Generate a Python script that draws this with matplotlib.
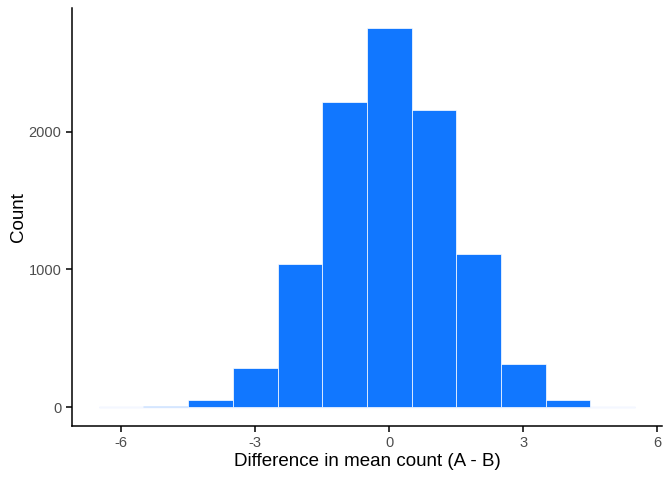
import numpy as np
import matplotlib.pyplot as plt

plt.rcParams["font.family"] = ["Liberation Sans", "DejaVu Sans"]

# bin centres (width 1) and counts
bin_centres = [-6, -5, -4, -3, -2, -1, 0, 1, 2, 3, 4, 5]
counts = [1, 6, 52, 285, 1042, 2219, 2752, 2155, 1115, 315, 52, 3]
x_ticks = [-6, -3, 0, 3, 6]
y_ticks = [0, 1000, 2000]

fig = plt.figure(figsize=(6.72, 4.8), dpi=100)
ax = fig.add_axes([0.107, 0.1125, 0.878, 0.8705])

ax.bar(bin_centres, counts, width=1, color="#1177ff", edgecolor="white", linewidth=0.5)
# faint baseline for the near-empty outer bins
ax.hlines(0, -6.5, 5.5, color="#dde6ff", linewidth=1, zorder=0)

ax.set_xlim(-7.1, 6.1)
ax.set_ylim(-138, 2898)
ax.set_xticks(x_ticks)
ax.set_xticklabels([str(t) for t in x_ticks])
ax.set_yticks(y_ticks)

for side in ["top", "right"]:
    ax.spines[side].set_visible(False)
for side in ["left", "bottom"]:
    ax.spines[side].set_linewidth(1.1)
ax.tick_params(axis="both", labelsize=10.5, labelcolor="#4d4d4d", color="black", length=4, width=1.1)

ax.set_xlabel("Difference in mean count (A - B)", fontsize=13.5, labelpad=2)
ax.set_ylabel("Count", fontsize=13.5, labelpad=1)

fig.savefig("out.png", dpi=100)
